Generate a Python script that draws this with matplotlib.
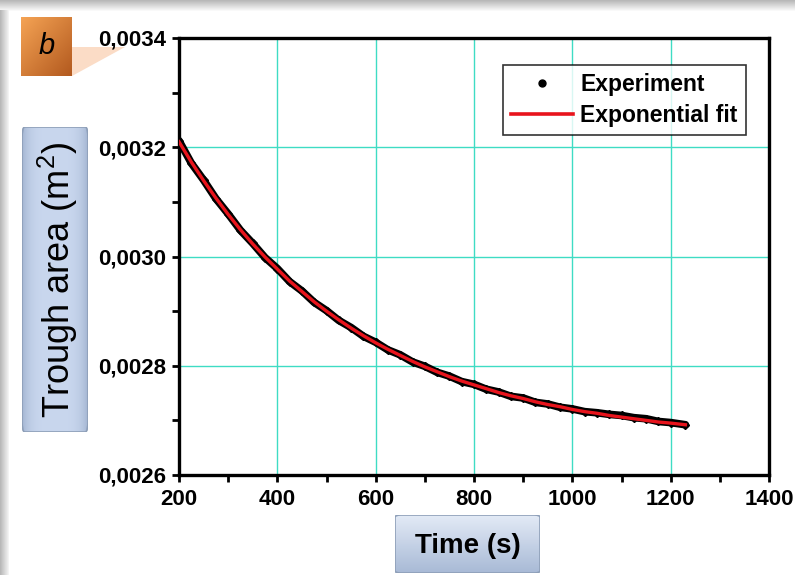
import matplotlib.pyplot as plt
import matplotlib.ticker as ticker
from matplotlib.patches import FancyBboxPatch, Polygon
from matplotlib.lines import Line2D
import numpy as np

plt.rcParams['font.family'] = ['Liberation Sans', 'DejaVu Sans']

# Measured trough area during compression (time in s, area in m^2)
time_exp = [200, 225, 250, 275, 300, 325, 350, 375, 400, 425, 450, 475, 500,
            525, 550, 575, 600, 625, 650, 675, 700, 725, 750, 775, 800, 825,
            850, 875, 900, 925, 950, 975, 1000, 1025, 1050, 1075, 1100, 1125,
            1150, 1175, 1200, 1230]
area_exp = [3.212, 3.171, 3.140, 3.106, 3.078, 3.048, 3.024, 2.998, 2.978,
            2.954, 2.937, 2.916, 2.901, 2.883, 2.870, 2.854, 2.843, 2.829,
            2.820, 2.807, 2.799, 2.788, 2.781, 2.771, 2.766, 2.757, 2.752,
            2.744, 2.741, 2.733, 2.730, 2.724, 2.721, 2.716, 2.714, 2.711,
            2.709, 2.705, 2.703, 2.698, 2.696, 2.692]

# Exponential fit evaluated at the same times
time_fit = time_exp
area_fit = [3.210, 3.173, 3.139, 3.107, 3.077, 3.049, 3.023, 2.999, 2.977,
            2.955, 2.936, 2.917, 2.900, 2.884, 2.869, 2.855, 2.842, 2.830,
            2.819, 2.808, 2.798, 2.789, 2.780, 2.772, 2.765, 2.758, 2.751,
            2.745, 2.740, 2.734, 2.729, 2.725, 2.720, 2.716, 2.713, 2.709,
            2.706, 2.703, 2.700, 2.697, 2.695, 2.692]

W, H = 795, 575
fig = plt.figure(figsize=(W / 100, H / 100), dpi=100, facecolor='white')


def fbox(x0, y0, x1, y1):
    # pixel box (top-left origin) -> figure fraction rect
    return [x0 / W, 1 - y1 / H, (x1 - x0) / W, (y1 - y0) / H]


# grey page shadow along the top and left edges
bg = fig.add_axes([0, 0, 1, 1], zorder=-10)
bg.set_xlim(0, W)
bg.set_ylim(H, 0)
bg.axis('off')
top_grad = np.linspace(0.72, 1.0, 12).reshape(-1, 1)
bg.imshow(np.repeat(top_grad, 2, axis=1), cmap='gray', vmin=0, vmax=1,
          extent=[0, W, 12, 0], aspect='auto')
left_grad = np.linspace(0.72, 0.95, 9).reshape(1, -1)
bg.imshow(np.repeat(left_grad, 2, axis=0), cmap='gray', vmin=0, vmax=1,
          extent=[0, 9, H, 10], aspect='auto')

# main plot
ax = fig.add_axes(fbox(179, 38, 769, 475))
ax.set_xlim(200, 1400)
ax.set_ylim(0.0026, 0.0034)

t = np.array(time_exp)
a_exp = np.array(area_exp) * 1e-3
a_fit = np.array(area_fit) * 1e-3

ax.plot(t, a_exp, color='black', lw=5.5, solid_capstyle='round', zorder=3)
ax.plot(t, a_exp, ls='none', marker='D', ms=4, color='black', zorder=3)
ax.plot(time_fit, a_fit, color='#e8141c', lw=2.4, zorder=4)

ax.grid(True, color='#3fdcc4', lw=1.0)
ax.set_axisbelow(True)

ax.xaxis.set_major_locator(ticker.MultipleLocator(200))
ax.xaxis.set_minor_locator(ticker.MultipleLocator(100))
ax.yaxis.set_major_locator(ticker.MultipleLocator(0.0002))
ax.yaxis.set_minor_locator(ticker.MultipleLocator(0.0001))
ax.yaxis.set_major_formatter(ticker.FuncFormatter(lambda v, p: f'{v:.4f}'.replace('.', ',')))

for s in ax.spines.values():
    s.set_linewidth(2.4)
ax.tick_params(which='both', direction='out', width=2, length=5, labelsize=16)
ax.tick_params(axis='y', pad=4)
ax.tick_params(axis='x', pad=5)
for lab in ax.get_xticklabels() + ax.get_yticklabels():
    lab.set_fontweight('bold')

handles = [Line2D([], [], ls='none', marker='o', ms=5, color='black'),
           Line2D([], [], color='#e8141c', lw=2.6)]
leg = ax.legend(handles, ['Experiment', 'Exponential fit'], loc='upper right',
                bbox_to_anchor=(0.968, 0.948), prop={'weight': 'bold', 'size': 16.5},
                frameon=True, fancybox=False, edgecolor='black', handlelength=2.7,
                handletextpad=0.3, borderpad=0.35, labelspacing=0.35,
                borderaxespad=0.2)
leg.get_frame().set_linewidth(1.2)


def gradient_box(rect, colors, horizontal=False):
    bax = fig.add_axes(fbox(*rect), zorder=5)
    bax.set_xlim(0, 1)
    bax.set_ylim(0, 1)
    bax.axis('off')
    c0 = np.array(plt.matplotlib.colors.to_rgb(colors[0]))
    c1 = np.array(plt.matplotlib.colors.to_rgb(colors[1]))
    if horizontal:
        u = np.abs(np.linspace(-1, 1, 64)) ** 4
        img = (c1[None, :] * (1 - u[:, None]) + c0[None, :] * u[:, None])[None, :, :]
    else:
        u = np.linspace(0, 1, 64)
        img = (c0[None, :] * (1 - u[:, None]) + c1[None, :] * u[:, None])[:, None, :]
    im = bax.imshow(img, extent=[0, 1, 0, 1], aspect='auto', origin='upper')
    clip = FancyBboxPatch((0, 0), 1, 1, boxstyle='round,pad=0,rounding_size=0.04',
                          transform=bax.transAxes, fc='none', ec='#8e9fb8', lw=1.2)
    bax.add_patch(clip)
    im.set_clip_path(clip)
    return bax


# "b" panel tag with its light wedge
tag = fig.add_axes(fbox(21, 17, 72, 76), zorder=5)
tag.axis('off')
yy, xx = np.mgrid[0:1:64j, 0:1:64j]
mix = (xx + yy) / 2
c_light = np.array([0.96, 0.64, 0.33])
c_dark = np.array([0.70, 0.35, 0.12])
tag.imshow(c_light * (1 - mix[..., None]) + c_dark * mix[..., None],
           extent=[0, 1, 0, 1], aspect='auto')
tag.set_xlim(0, 1)
tag.set_ylim(0, 1)
tag.text(0.5, 0.5, 'b', style='italic', fontsize=21, ha='center', va='center')
bg.add_patch(Polygon([[72, 47], [125, 47], [72, 76]], closed=True,
                     fc='#fbdcc6', ec='none'))

# y-axis label box
ybox = gradient_box((22, 127, 88, 432), ('#a4b6d2', '#c9d7ee'), horizontal=True)
ybox.text(0.55, 0.5, 'Trough area (m$^\\mathregular{2}$)', rotation=90,
          fontsize=26, ha='center', va='center')

# x-axis label box
xbox = gradient_box((395, 515, 540, 573), ('#e3eaf6', '#a8bad6'))
xbox.text(0.5, 0.47, 'Time (s)', fontsize=20, fontweight='bold',
          ha='center', va='center')

fig.savefig('out.png', dpi=100)
